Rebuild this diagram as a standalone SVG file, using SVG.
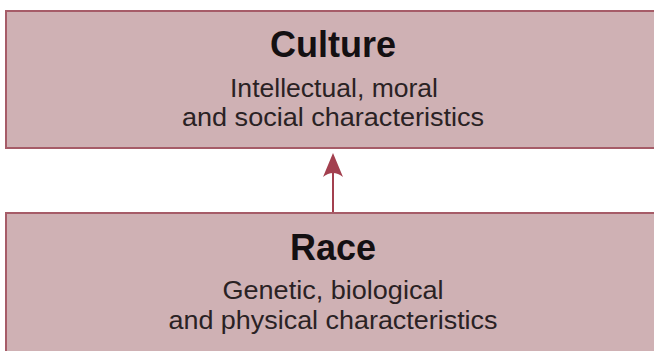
<svg xmlns="http://www.w3.org/2000/svg" width="654" height="351" viewBox="0 0 654 351">
<style>
.box{fill:#cfb1b4;stroke:#a65c68;stroke-width:2}
.title{font-family:"Liberation Sans",Arial,sans-serif;font-weight:bold;font-size:36px;fill:#141012;text-anchor:middle}
.sub{font-family:"Liberation Sans",Arial,sans-serif;font-size:26.5px;fill:#2a2224;text-anchor:middle}
.conn{stroke:#a3404f;stroke-width:2;fill:none}
</style>
<defs>
<marker id="ah" viewBox="0 0 24 20" refX="17" refY="10" markerWidth="24" markerHeight="20" markerUnits="userSpaceOnUse" orient="auto">
<path d="M24 10 L0 0 Q8 10 0 20 Z" fill="#a3404f"/>
</marker>
</defs>
<rect width="654" height="351" fill="#ffffff"/>
<g id="culture">
<rect class="box" x="6" y="11" width="660" height="137"/>
<text class="title" x="333" y="57">Culture</text>
<text class="sub" x="334" y="97" textLength="208" lengthAdjust="spacingAndGlyphs">Intellectual, moral</text>
<text class="sub" x="333" y="126" textLength="302" lengthAdjust="spacingAndGlyphs">and social characteristics</text>
</g>
<g id="race">
<rect class="box" x="6" y="213" width="660" height="150"/>
<text class="title" x="333" y="260">Race</text>
<text class="sub" x="333" y="299" textLength="221" lengthAdjust="spacingAndGlyphs">Genetic, biological</text>
<text class="sub" x="333" y="329" textLength="329" lengthAdjust="spacingAndGlyphs">and physical characteristics</text>
</g>
<g id="connectors">
<line class="conn" x1="333" y1="212" x2="333" y2="160" marker-end="url(#ah)"/>
</g>
</svg>
